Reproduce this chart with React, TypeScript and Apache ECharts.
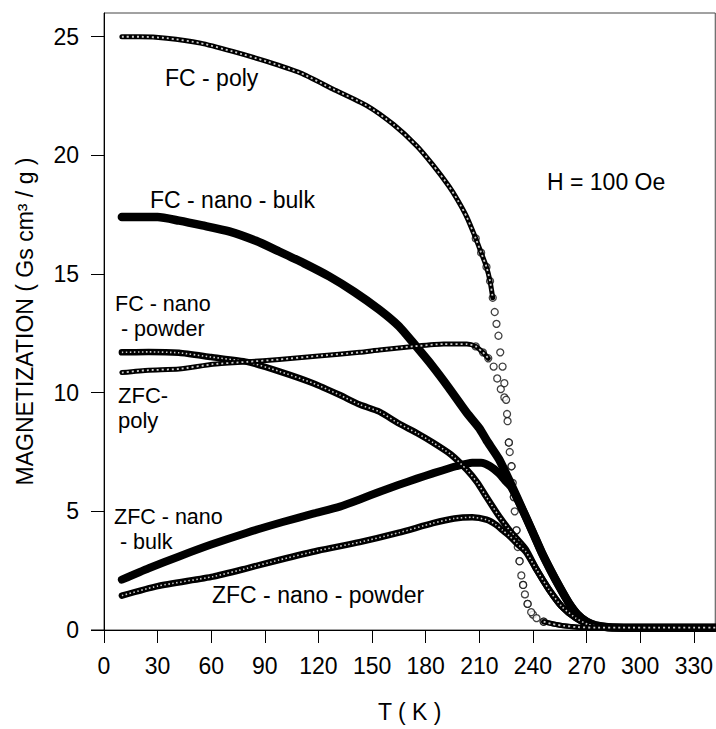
import { useEffect, useRef } from "react";
import * as echarts from "echarts";

// Temperature axis (K) and magnetization axis (Gs cm³/g) ticks
const xTicks = [0, 30, 60, 90, 120, 150, 180, 210, 240, 270, 300, 330];
const yTicks = [0, 5, 10, 15, 20, 25];

// [T (K), M (Gs cm³/g)]
const fcPoly: [number, number][] = [
  [10, 25.0], [20, 25.0], [35, 24.94], [54, 24.73], [72, 24.38], [91, 23.96],
  [110, 23.47], [128, 22.8], [147, 22.1], [162, 21.3], [175, 20.4], [184, 19.6],
  [193, 18.7], [198, 18.1], [203, 17.4], [208, 16.5], [211, 15.9], [214, 15.3],
  [216, 14.7], [217.5, 14.0], [218.6, 13.4], [219.6, 12.9], [220.7, 12.4],
  [221.7, 11.7], [223, 11.1], [224, 10.4], [225, 9.7], [225.8, 8.8], [226.5, 7.9],
  [227, 7.5], [228, 6.9], [228.7, 6.2], [229.3, 5.6], [229.8, 5.0], [230.8, 4.2],
  [231.5, 3.5], [232.5, 2.9], [233.5, 2.3], [234.5, 1.9], [235.5, 1.5], [237, 1.1],
  [239, 0.75], [242, 0.5], [246, 0.35], [251, 0.25], [257, 0.18], [265, 0.12],
  [275, 0.1], [290, 0.1], [310, 0.1], [330, 0.1], [342, 0.1],
];

const zfcPoly: [number, number][] = [
  [10, 10.85], [25, 10.95], [42, 11.0], [61, 11.2], [80, 11.3], [98, 11.4],
  [120, 11.55], [143, 11.7], [154, 11.8], [173, 11.95], [190, 12.05], [203, 12.05],
  [208, 11.95], [212, 11.7], [215, 11.45], [218, 11.1], [220, 10.6], [222, 10.15],
  [224, 9.8], [225.5, 9.1], [226.5, 7.9], [228, 6.9], [229.3, 5.6], [230.8, 4.2],
  [232.5, 2.9], [234.5, 1.9], [237, 1.1], [240, 0.65], [246, 0.35], [257, 0.18],
  [275, 0.1], [310, 0.1], [342, 0.1],
];

const fcNanoBulk: [number, number][] = [
  [10, 17.4], [30, 17.4], [42, 17.25], [55, 17.05], [70, 16.8], [85, 16.4],
  [98, 15.95], [112, 15.45], [126, 14.9], [140, 14.25], [154, 13.5], [165, 12.8],
  [173, 12.1], [184, 11.1], [193, 10.2], [203, 9.15], [210, 8.5], [214, 8.0],
  [221, 7.2], [228, 6.1], [234, 5.1], [240, 4.1], [245, 3.25], [250, 2.5],
  [255, 1.8], [260, 1.15], [265, 0.65], [270, 0.35], [275, 0.2], [282, 0.12],
  [295, 0.1], [342, 0.1],
];

const zfcNanoBulk: [number, number][] = [
  [10, 2.12], [25, 2.6], [42, 3.1], [60, 3.6], [80, 4.1], [100, 4.55], [117, 4.9],
  [132, 5.2], [143, 5.5], [155, 5.85], [165, 6.12], [175, 6.38], [184, 6.6],
  [197, 6.9], [206, 7.05], [211, 7.05], [216, 6.9], [221, 6.6], [225, 6.25],
  [228, 6.0], [234, 5.1], [240, 4.1], [245, 3.25], [250, 2.5], [255, 1.8],
  [260, 1.15], [265, 0.65], [270, 0.35], [275, 0.2], [282, 0.12], [295, 0.1],
  [342, 0.1],
];

const fcNanoPowder: [number, number][] = [
  [10, 11.7], [25, 11.72], [42, 11.68], [60, 11.5], [80, 11.3], [98, 10.9],
  [117, 10.4], [132, 9.9], [143, 9.5], [154, 9.2], [165, 8.7], [175, 8.3],
  [184, 7.9], [194, 7.4], [203, 6.75], [209, 6.2], [214, 5.6], [221, 4.8],
  [228, 4.1], [236, 3.4], [242, 2.55], [249, 1.7], [256, 1.0], [264, 0.5],
  [271, 0.23], [280, 0.12], [295, 0.1], [342, 0.1],
];

const zfcNanoPowder: [number, number][] = [
  [10, 1.45], [30, 1.85], [61, 2.25], [80, 2.6], [98, 2.95], [120, 3.35],
  [143, 3.7], [165, 4.1], [184, 4.5], [196, 4.7], [206, 4.75], [214, 4.65],
  [219, 4.45], [223, 4.2], [227, 3.95], [231, 3.65], [236, 3.3], [242, 2.55],
  [249, 1.7], [256, 1.0], [264, 0.5], [271, 0.23], [280, 0.12], [295, 0.1],
  [342, 0.1],
];

const FONT = "'Liberation Sans', Arial, Helvetica, sans-serif";
const GRID = { left: 104, right: 0, top: 13, bottom: 99 };
const T_MAX = 342;
const M_MAX = 26;

// Poly samples are drawn as open circles where the transition is steep
// and as a dense circle chain elsewhere.
const STEEP_FROM = 205;
const STEEP_TO = 250;
const CHAIN_BREAK_FROM = 217.5;
const CHAIN_BREAK_TO = 245;

function chainPart(data: [number, number][]) {
  return data.map(([t, m]) =>
    t > CHAIN_BREAK_FROM && t < CHAIN_BREAK_TO ? [t, "-"] : [t, m]
  );
}
function steepPart(data: [number, number][]) {
  return data.filter(([t]) => t >= STEEP_FROM && t <= STEEP_TO);
}

const SMOOTH = 0.2;

function solidBand(name: string, data: any[], width: number) {
  return {
    name,
    type: "line",
    data,
    showSymbol: false,
    smooth: SMOOTH,
    lineStyle: { color: "#000", width, cap: "round", join: "round" },
    silent: true,
  };
}
function textureOverlay(name: string, data: any[], width: number, dash: number[]) {
  return {
    name: name + " texture",
    type: "line",
    data,
    showSymbol: false,
    smooth: SMOOTH,
    lineStyle: { color: "rgba(255,255,255,0.8)", width, type: dash },
    silent: true,
  };
}
function openCircles(name: string, data: any[]) {
  return {
    name: name + " points",
    type: "scatter",
    data,
    symbol: "circle",
    symbolSize: 7,
    itemStyle: { color: "#fff", borderColor: "#111", borderWidth: 1.3 },
    silent: true,
  };
}

// Curve labels; multi-line labels use one text block
const annotations: {
  text: string;
  x: number;
  top: number;
  size: number;
  lineHeight: number;
}[] = [
  { text: "FC - poly", x: 165, top: 66, size: 23, lineHeight: 24 },
  { text: "FC - nano - bulk", x: 150, top: 188, size: 23, lineHeight: 24 },
  { text: "H = 100 Oe", x: 547, top: 170, size: 23, lineHeight: 24 },
  { text: "FC - nano\n - powder", x: 115, top: 291.5, size: 21.5, lineHeight: 25 },
  { text: "ZFC-\npoly", x: 118, top: 383, size: 22, lineHeight: 25 },
  { text: "ZFC - nano\n - bulk", x: 114, top: 504, size: 21.5, lineHeight: 25 },
  { text: "ZFC - nano - powder", x: 212, top: 583, size: 23, lineHeight: 24 },
];

export default function App() {
  const ref = useRef<HTMLDivElement>(null);

  useEffect(() => {
    const chart = echarts.init(ref.current!, null, { renderer: "svg" });
    const axisY = 729 - GRID.bottom;

    chart.setOption({
      animation: false,
      backgroundColor: "#fff",
      textStyle: { fontFamily: FONT },
      grid: {
        ...GRID,
        show: true,
        borderColor: "#444",
        borderWidth: 1,
        containLabel: false,
      },
      xAxis: {
        type: "value",
        min: 0,
        max: T_MAX,
        interval: 30,
        name: "T ( K )",
        nameLocation: "middle",
        nameGap: 70,
        nameTextStyle: { fontSize: 23, color: "#000", fontFamily: FONT },
        axisLine: { show: true, lineStyle: { color: "#000", width: 1 } },
        axisTick: {
          show: true,
          inside: false,
          length: 13,
          customValues: xTicks,
          lineStyle: { color: "#000", width: 1 },
        },
        axisLabel: {
          customValues: xTicks,
          margin: 24,
          fontSize: 23,
          color: "#000",
          fontFamily: FONT,
        },
        splitLine: { show: false },
      },
      yAxis: {
        type: "value",
        min: 0,
        max: M_MAX,
        interval: 5,
        name: "MAGNETIZATION ( Gs cm³ / g )",
        nameLocation: "middle",
        nameGap: 68,
        nameTextStyle: { fontSize: 23, color: "#000", fontFamily: FONT },
        axisLine: { show: true, lineStyle: { color: "#000", width: 1 } },
        axisTick: {
          show: true,
          inside: false,
          length: 13,
          customValues: yTicks,
          lineStyle: { color: "#000", width: 1 },
        },
        axisLabel: {
          customValues: yTicks,
          margin: 25,
          fontSize: 23,
          color: "#000",
          fontFamily: FONT,
        },
        splitLine: { show: false },
      },
      series: [
        solidBand("FC - nano - bulk", fcNanoBulk, 8.5),
        solidBand("ZFC - nano - bulk", zfcNanoBulk, 8),
        solidBand("FC - nano - powder", fcNanoPowder, 6.5),
        textureOverlay("FC - nano - powder", fcNanoPowder, 1.6, [1.5, 2.5]),
        solidBand("ZFC - nano - powder", zfcNanoPowder, 6.5),
        textureOverlay("ZFC - nano - powder", zfcNanoPowder, 1.6, [1.5, 2.5]),
        solidBand("ZFC - poly", chainPart(zfcPoly), 5),
        textureOverlay("ZFC - poly", chainPart(zfcPoly), 1.8, [2, 3]),
        openCircles("ZFC - poly", steepPart(zfcPoly)),
        solidBand("FC - poly", chainPart(fcPoly), 5),
        textureOverlay("FC - poly", chainPart(fcPoly), 1.8, [2, 3]),
        openCircles("FC - poly", steepPart(fcPoly)),
      ],
      graphic: [
        // x axis line continues a little past the y axis
        {
          type: "line",
          shape: { x1: GRID.left - 13, y1: axisY, x2: GRID.left, y2: axisY },
          style: { stroke: "#000", lineWidth: 1 },
          silent: true,
        },
        ...annotations.map((a) => ({
          type: "text",
          x: a.x,
          y: a.top,
          silent: true,
          style: {
            text: a.text,
            fontSize: a.size,
            lineHeight: a.lineHeight,
            fontFamily: FONT,
            fill: "#000",
            verticalAlign: "top",
            align: "left",
          },
        })),
      ],
    });

    return () => chart.dispose();
  }, []);

  return (
    <div
      ref={ref}
      style={{ position: "absolute", left: 0, top: 0, width: 716, height: 729 }}
    />
  );
}
